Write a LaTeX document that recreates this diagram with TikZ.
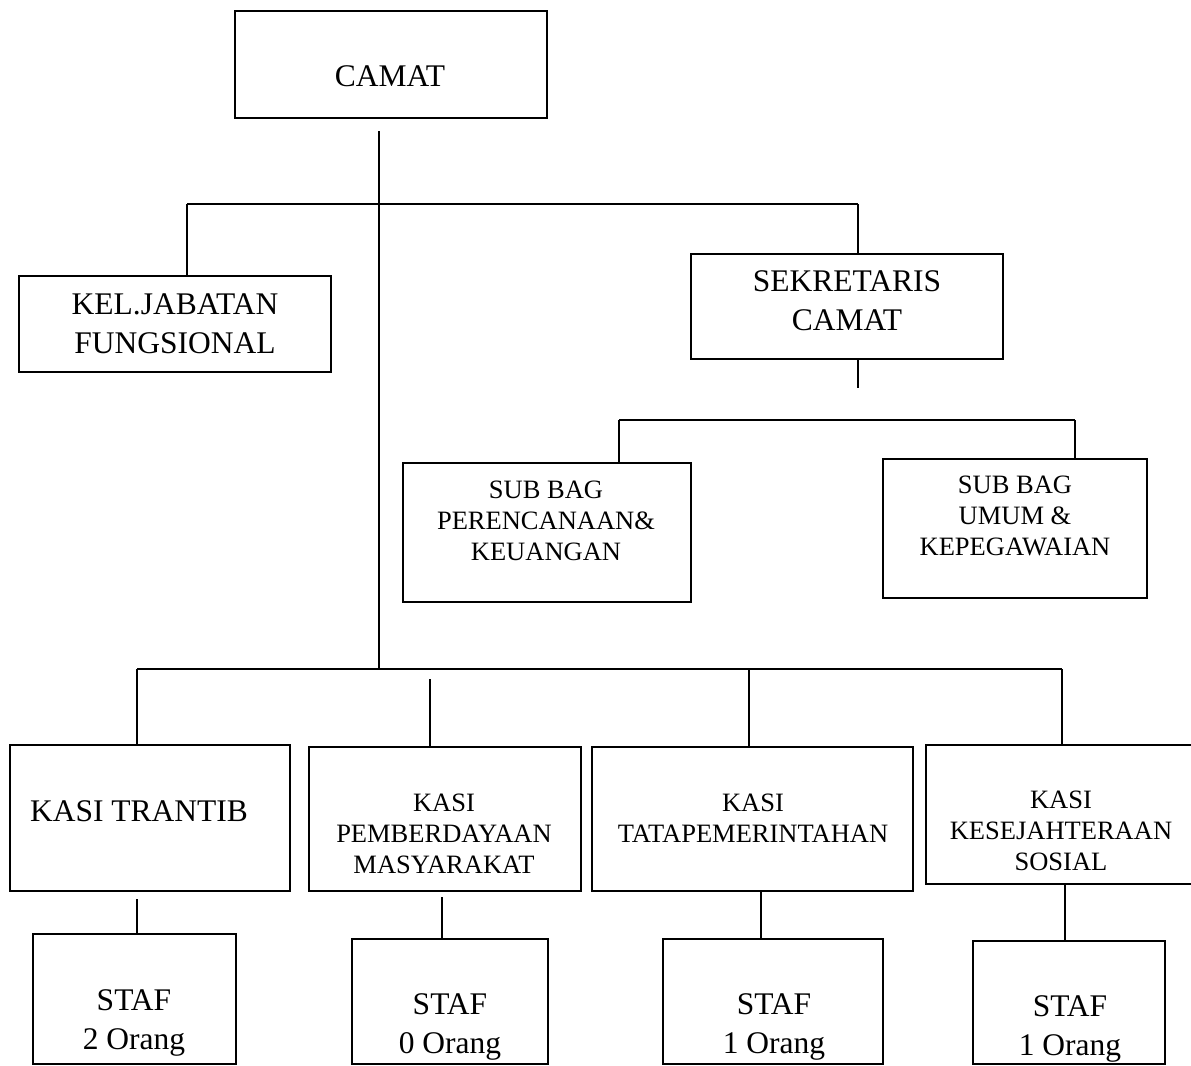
\documentclass[tikz,border=0pt]{standalone}
\usepackage{fontspec}
\setmainfont{Liberation Serif}
\newcommand\bigfnt{\fontsize{15.75}{19.5}\selectfont}
\newcommand\smallfnt{\fontsize{13.25}{15.5}\selectfont}
\newcommand\mkbox[5]{\node[orgbox, minimum width={(#4-#2)*0.5pt}, minimum height={(#5-#3)*0.5pt}] (#1) at ({(#2+#4)/2},{(#3+#5)/2}) {};}
\tikzset{
  orgbox/.style={draw, rectangle, line width=1pt, inner sep=0pt, fill=white},
  bigtxt/.style={align=center, inner sep=0pt, font=\bigfnt},
  smalltxt/.style={align=center, inner sep=0pt, font=\smallfnt},
  conn/.style={line width=0.9pt}
}
\begin{document}
\begin{tikzpicture}[x=0.5pt,y=-0.5pt]
\useasboundingbox (0,0) rectangle (1191,1066);
% boxes
\mkbox{camat}{235}{11}{547}{118}
\mkbox{kel}{19}{276}{331}{372}
\mkbox{sek}{691}{254}{1003}{359}
\mkbox{sb1}{403}{463}{691}{602}
\mkbox{sb2}{883}{459}{1147}{598}
\mkbox{k1}{10}{745}{290}{891}
\mkbox{k2}{309}{747}{581}{891}
\mkbox{k3}{592}{747}{913}{891}
\mkbox{k4}{926}{745}{1210}{884}
\mkbox{st1}{33}{934}{236}{1064}
\mkbox{st2}{352}{939}{548}{1064}
\mkbox{st3}{663}{939}{883}{1064}
\mkbox{st4}{973}{941}{1165}{1064}
% texts
\node[bigtxt] (tcamat) at (390,76) {CAMAT};
\node[bigtxt] (tkel) at (175,324) {KEL.JABATAN\\FUNGSIONAL};
\node[bigtxt] (tsek) at (847,301) {SEKRETARIS\\CAMAT};
\node[smalltxt] (tsb1) at (546,521) {SUB BAG\\PERENCANAAN\&\\KEUANGAN};
\node[smalltxt] (tsb2) at (1015,516) {SUB BAG\\UMUM \&\\KEPEGAWAIAN};
\node[bigtxt] (tk1) at (139,811) {KASI TRANTIB};
\node[smalltxt] (tk2) at (444,834) {KASI\\PEMBERDAYAAN\\MASYARAKAT};
\node[smalltxt] (tk3) at (753,818) {KASI\\TATAPEMERINTAHAN};
\node[smalltxt] (tk4) at (1061,831) {KASI\\KESEJAHTERAAN\\SOSIAL};
\node[bigtxt] (tst1) at (134,1023) {STAF\\2 Orang};
\node[bigtxt] (tst2) at (450,1027) {STAF\\0 Orang};
\node[bigtxt] (tst3) at (774,1027) {STAF\\1 Orang};
\node[bigtxt] (tst4) at (1070,1029) {STAF\\1 Orang};
% junction coordinates
\coordinate (c0) at (379,131);
\coordinate (c1) at (379,669);
\coordinate (b1l) at (187,204);
\coordinate (b1r) at (858,204);
\coordinate (s0) at (858,388);
\coordinate (b2l) at (619,420);
\coordinate (b2r) at (1075,420);
\coordinate (b3l) at (137,669);
\coordinate (b3r) at (1062,669);
\coordinate (b3b) at (430,679);
\coordinate (b3c) at (749,669);
\coordinate (t1) at (137,899);
\coordinate (t2) at (442,897);
\coordinate (t3) at (761,891);
\coordinate (t4) at (1065,884);
% connectors
\draw[conn] (c0) -- (c1);
\draw[conn] (b1l) -- (b1r);
\draw[conn] (b1l) -- (b1l |- kel.north);
\draw[conn] (b1r) -- (b1r |- sek.north);
\draw[conn] (s0 |- sek.south) -- (s0);
\draw[conn] (b2l) -- (b2r);
\draw[conn] (b2l) -- (b2l |- sb1.north);
\draw[conn] (b2r) -- (b2r |- sb2.north);
\draw[conn] (b3l) -- (b3r);
\draw[conn] (b3l) -- (b3l |- k1.north);
\draw[conn] (b3b) -- (b3b |- k2.north);
\draw[conn] (b3c) -- (b3c |- k3.north);
\draw[conn] (b3r) -- (b3r |- k4.north);
\draw[conn] (t1) -- (t1 |- st1.north);
\draw[conn] (t2) -- (t2 |- st2.north);
\draw[conn] (t3 |- k3.south) -- (t3 |- st3.north);
\draw[conn] (t4 |- k4.south) -- (t4 |- st4.north);
\end{tikzpicture}
\end{document}
